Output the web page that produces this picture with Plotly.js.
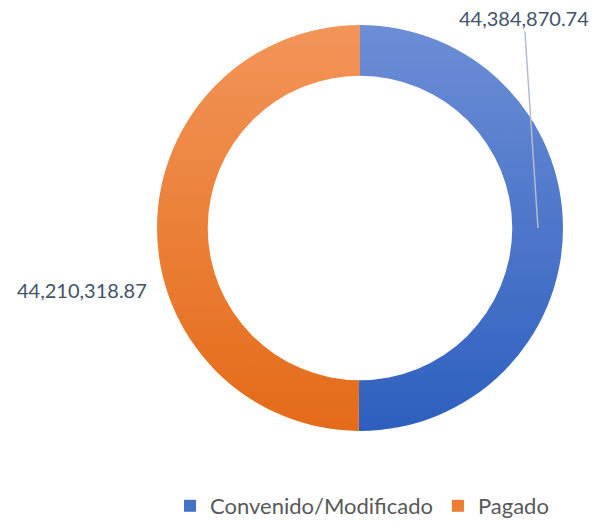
<!DOCTYPE html>
<html>
<head>
<meta charset="utf-8">
<script src="https://cdn.plot.ly/plotly-3.0.1.min.js"></script>
<style>html,body{margin:0;padding:0;background:#fff;}#chart{width:602px;height:527px;}</style>
</head>
<body>
<div id="chart"></div>
<script>
const categories = ["Convenido/Modificado", "Pagado"];
const values = [44384870.74, 44210318.87];
const colors = ["#4472C4", "#ED7D31"];
const gradTop = ["#6C8ED6", "#F29559"];
const gradBottom = ["#2E5FBE", "#E46B18"];

function fmt(v) {
  return v.toLocaleString("en-US", {minimumFractionDigits: 2, maximumFractionDigits: 2});
}

const W = 602, H = 527;
const trace = {
  type: "pie",
  labels: categories,
  values: values,
  hole: 0.75,
  sort: false,
  direction: "clockwise",
  rotation: 0,
  textinfo: "none",
  hoverinfo: "label+value",
  marker: {colors: colors, line: {width: 0}},
  domain: {x: [157 / W, 563 / W], y: [1 - 431 / H, 1 - 25 / H]}
};

const layout = {
  width: W, height: H,
  margin: {l: 0, r: 0, t: 0, b: 0},
  paper_bgcolor: "#ffffff",
  showlegend: true,
  legend: {
    orientation: "h", x: 362 / W, xanchor: "center", y: 0, yanchor: "bottom",
    font: {family: "Lato, 'Open Sans', sans-serif", size: 22, color: "#595959"},
    itemwidth: 30, traceorder: "normal"
  },
  annotations: [
    {
      xref: "paper", yref: "paper", x: 538 / W, y: 1 - 228 / H,
      ax: -14, ay: -210, showarrow: true, arrowhead: 0, arrowwidth: 1.5,
      arrowcolor: "#B4BCCB", standoff: 0, startstandoff: 0,
      text: fmt(values[0]),
      font: {family: "Lato, 'Open Sans', sans-serif", size: 20, color: "#44546A"}
    },
    {
      xref: "paper", yref: "paper", x: 82 / W, y: 1 - 290 / H,
      xanchor: "center", yanchor: "middle",
      showarrow: false,
      text: fmt(values[1]),
      font: {family: "Lato, 'Open Sans', sans-serif", size: 20, color: "#44546A"}
    }
  ]
};

Plotly.newPlot("chart", [trace], layout, {displayModeBar: false, staticPlot: true}).then(function () {
  const svg = document.querySelector("#chart .main-svg");
  const ns = "http://www.w3.org/2000/svg";
  let defs = svg.querySelector("defs");
  if (!defs) { defs = document.createElementNS(ns, "defs"); svg.insertBefore(defs, svg.firstChild); }
  for (let i = 0; i < categories.length; i++) {
    const g = document.createElementNS(ns, "linearGradient");
    g.setAttribute("id", "sliceGrad" + i);
    g.setAttribute("x1", "0"); g.setAttribute("y1", "0");
    g.setAttribute("x2", "0"); g.setAttribute("y2", "1");
    const s1 = document.createElementNS(ns, "stop");
    s1.setAttribute("offset", "0"); s1.setAttribute("stop-color", gradTop[i]);
    const s2 = document.createElementNS(ns, "stop");
    s2.setAttribute("offset", "1"); s2.setAttribute("stop-color", gradBottom[i]);
    g.appendChild(s1); g.appendChild(s2);
    defs.appendChild(g);
  }
  const slices = document.querySelectorAll("#chart .slice path.surface");
  slices.forEach(function (p, i) {
    p.style.fill = "url(#sliceGrad" + i + ")";
  });
});
</script>
</body>
</html>
